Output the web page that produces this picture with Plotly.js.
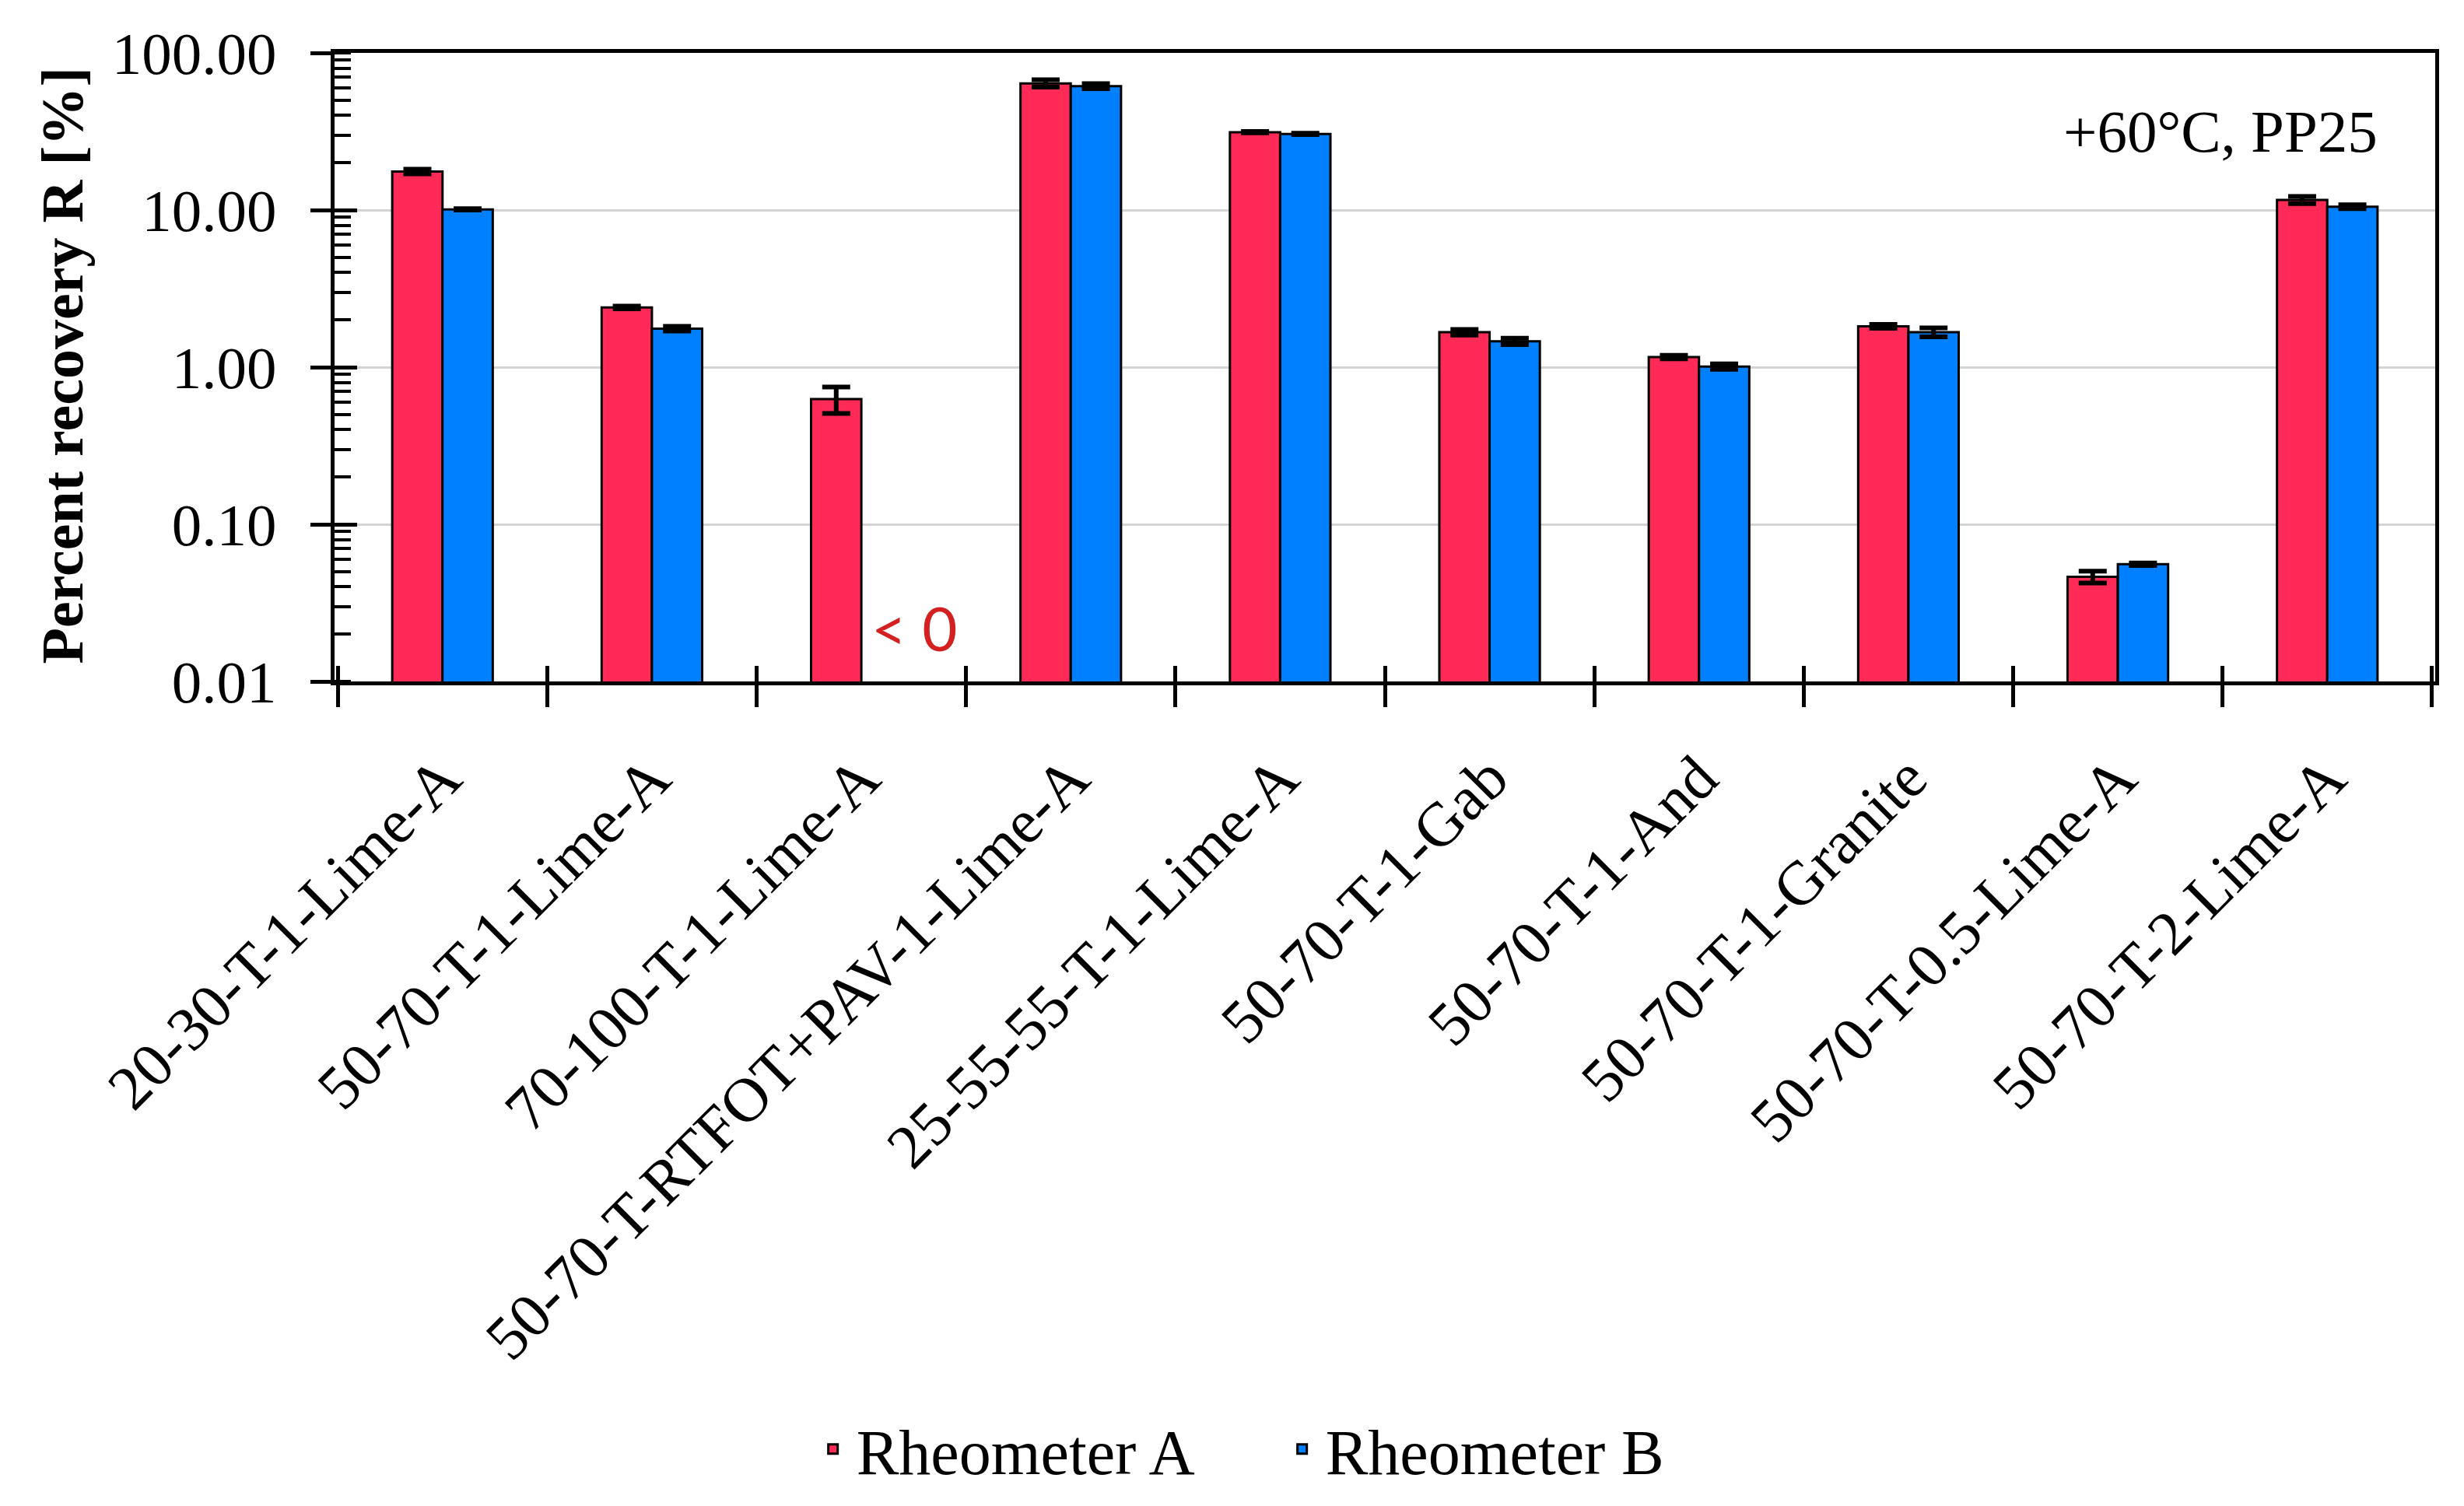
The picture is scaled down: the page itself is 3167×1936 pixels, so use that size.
<!DOCTYPE html>
<html>
<head>
<meta charset="utf-8">
<script src="https://cdn.plot.ly/plotly-3.0.1.min.js"></script>
<style>html,body{margin:0;padding:0;background:#fff;}</style>
</head>
<body>
<div id="chart" style="width:3167px;height:1936px;"></div>
<script>
// ---- data ----
const categories = [
  "20-30-T-1-Lime-A",
  "50-70-T-1-Lime-A",
  "70-100-T-1-Lime-A",
  "50-70-T-RTFOT+PAV-1-Lime-A",
  "25-55-55-T-1-Lime-A",
  "50-70-T-1-Gab",
  "50-70-T-1-And",
  "50-70-T-1-Granite",
  "50-70-T-0.5-Lime-A",
  "50-70-T-2-Lime-A"
];
const rheometerA = [17.6, 2.40, 0.627, 64.0, 31.3, 1.67, 1.16, 1.82, 0.0463, 11.6];
const rheometerB = [10.1, 1.76, null, 61.5, 30.5, 1.46, 1.01, 1.67, 0.0557, 10.5];
const errA = [0.6, 0.05, 0.12, 3.5, 0.3, 0.07, 0.03, 0.05, 0.004, 0.6];
const errB = [0.1, 0.06, 0, 2.3, 0.3, 0.07, 0.04, 0.11, 0.001, 0.3];
const yTickVals = [0.01, 0.1, 1, 10, 100];
const yTickText = ["0.01", "0.10", "1.00", "10.00", "100.00"];
const seriesNames = ["Rheometer A", "Rheometer B"];
const conditionLabel = "+60°C, PP25";
const negativeLabel = "< 0";
const yTitle = "Percent recovery R [%]";

// ---- styling ----
const FONT = "Liberation Serif, Times New Roman, serif";
const RED = "#FF2A55";
const BLUE = "#0080FF";

const traces = [
  {
    type: "bar", name: seriesNames[0], x: categories, y: rheometerA,
    marker: {color: RED, line: {color: "#000", width: 3}},
    error_y: {type: "data", array: errA, visible: true, color: "#000", thickness: 6, width: 18}
  },
  {
    type: "bar", name: seriesNames[1], x: categories, y: rheometerB,
    marker: {color: BLUE, line: {color: "#000", width: 3}},
    error_y: {type: "data", array: errB, visible: true, color: "#000", thickness: 6, width: 18}
  },
  // invisible helper trace to carry the inside halves of the crossing ticks
  {
    type: "scatter", mode: "markers", x: categories, y: rheometerA,
    xaxis: "x2", yaxis: "y2", marker: {opacity: 0}, showlegend: false, hoverinfo: "skip"
  }
];

const layout = {
  width: 3167, height: 1936,
  paper_bgcolor: "#fff", plot_bgcolor: "#fff",
  margin: {l: 430, r: 37, t: 68, b: 1051},
  barmode: "group", bargap: 0.52, bargroupgap: 0,
  font: {family: FONT, size: 76, color: "#000"},
  showlegend: true,
  legend: {
    orientation: "h", x: 0.4495, xanchor: "center", y: -1.2215, yanchor: "middle",
    entrywidth: 538, itemwidth: 50,
    font: {family: FONT, size: 82, color: "#000"}, bgcolor: "rgba(0,0,0,0)"
  },
  xaxis: {
    type: "category", tickangle: -45, tickson: "boundaries",
    ticks: "outside", ticklen: 28, tickwidth: 5, tickcolor: "#000",
    ticklabelstandoff: 40,
    showline: true, linecolor: "#000", linewidth: 5, mirror: true,
    showgrid: false, zeroline: false,
    tickfont: {family: FONT, size: 80, color: "#000"}
  },
  yaxis: {
    type: "log", range: [-2, 2],
    tickvals: yTickVals, ticktext: yTickText,
    ticks: "outside", ticklen: 26, tickwidth: 5, tickcolor: "#000",
    ticklabelstandoff: 28,
    minor: {ticks: "inside", ticklen: 21, tickwidth: 4, tickcolor: "#000", dtick: "D1", showgrid: false},
    showline: true, linecolor: "#000", linewidth: 5, mirror: true,
    showgrid: true, gridcolor: "#d4d4d4", gridwidth: 3,
    zeroline: false,
    tickfont: {family: FONT, size: 77, color: "#000"}
  },
  xaxis2: {
    type: "category", overlaying: "x", matches: "x", anchor: "y2", side: "bottom",
    tickson: "boundaries", ticks: "inside", ticklen: 20, tickwidth: 5, tickcolor: "#000",
    showticklabels: false, showline: false, showgrid: false, zeroline: false
  },
  yaxis2: {
    type: "log", overlaying: "y", matches: "y", anchor: "x2", side: "left",
    tickvals: yTickVals, ticks: "inside", ticklen: 29, tickwidth: 5, tickcolor: "#000",
    showticklabels: false, showline: false, showgrid: false, zeroline: false
  },
  annotations: [
    {
      text: "<b>" + yTitle + "</b>", textangle: -90,
      xref: "paper", yref: "paper", x: -0.1296, y: 0.502,
      xanchor: "center", yanchor: "middle", showarrow: false,
      font: {family: FONT, size: 76, color: "#000"}
    },
    {
      text: conditionLabel, xref: "paper", yref: "paper", x: 0.8978, y: 0.875,
      xanchor: "center", yanchor: "middle", showarrow: false,
      font: {family: FONT, size: 77, color: "#000"}
    },
    {
      text: negativeLabel, xref: "x", yref: "paper", x: categories[2], y: 0.085,
      xshift: 68, xanchor: "center", yanchor: "middle", showarrow: false,
      font: {family: "Lato, Open Sans, sans-serif", size: 78, color: "#D42020"}
    }
  ]
};

Plotly.newPlot("chart", traces, layout, {displayModeBar: false, staticPlot: true});
</script>
</body>
</html>
